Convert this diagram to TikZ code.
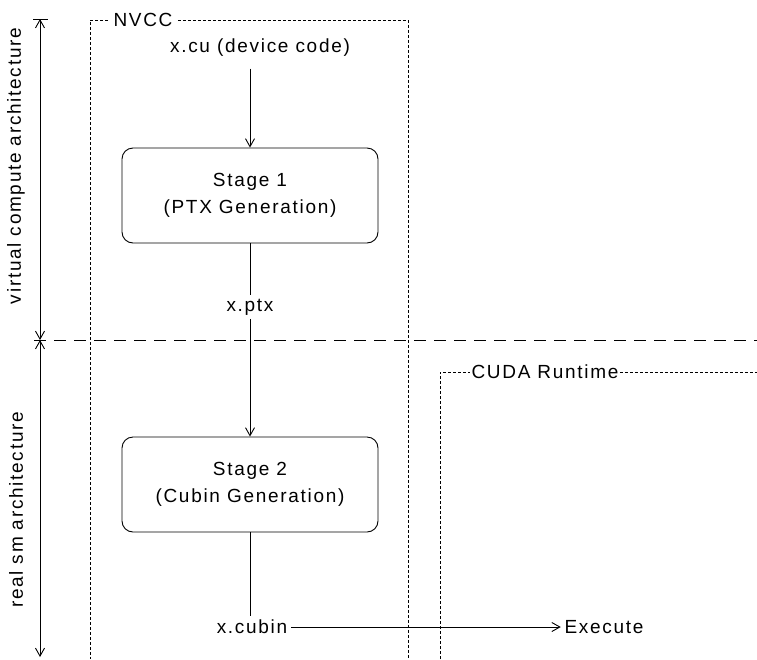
\documentclass[tikz,border=0pt]{standalone}
\usepackage{fontspec}
\setmainfont{Liberation Sans}[LetterSpace=9]
\usetikzlibrary{positioning,arrows.meta}

\begin{document}
\begin{tikzpicture}[x=1pt,y=-1pt,line width=0.9pt,
    >={Straight Barb[length=8pt,width=9pt,line width=0.9pt]},
    font=\fontsize{19}{23}\selectfont,
    stagebox/.style={draw, rounded corners=11pt, minimum width=256pt,
        minimum height=95pt, align=center},
    boxdash/.style={dash pattern=on 3pt off 2pt, line width=0.7pt},
    sepdash/.style={dash pattern=on 12pt off 8pt, line width=1pt}]
    \useasboundingbox (0,0) rectangle (757,659);

    % Ebenen links
    \coordinate (vtop) at (40,19);
    \coordinate (mid) at (40,340);
    \coordinate (vbot) at (40,657);
    \draw (33,19) -- (48,19);
    \draw[<->] (vtop) -- (mid);
    \draw[<->] (mid) -- (vbot);
    \node[rotate=90] (virt) at (16,166) {virtual compute architecture};
    \node[rotate=90] (real) at (16,510) {real sm architecture};

    % Trennlinie
    \draw[sepdash] (34,340) -- (757,340);

    % NVCC
    \node[inner sep=5pt] (nvcc) at (143,20) {NVCC};
    \draw[boxdash] (nvcc.west) -| (90,659);
    \draw[boxdash] (nvcc.east) -| (408,659);

    % CUDA Runtime
    \node[inner sep=1pt] (cuda) at (545,372) {CUDA Runtime};
    \draw[boxdash] (440,659) |- (cuda.west);
    \draw[boxdash] (cuda.east) -- (757,372);

    % Knoten
    \node (src) at (260,48) {x.cu (device code)};
    \node[stagebox] (s1) at (250,195.5) {Stage 1\\[4pt] (PTX Generation)};
    \node (ptx) at (250,307) {x.ptx};
    \node[stagebox] (s2) at (250,484.5) {Stage 2\\[4pt] (Cubin Generation)};
    \node (cubin) at (252,627) {x.cubin};
    \node (exec) at (604,627) {Execute};

    % Pfeile
    \draw[->, shorten <=8pt] (s1.north |- src.south) -- (s1.north);
    \draw (s1.south) -- (ptx.north);
    \draw[->] (ptx.south) -- (s2.north);
    \draw (s2.south) -- (s2.south |- cubin.north);
    \draw[->] (cubin.east) -- (exec.west);
\end{tikzpicture}
\end{document}
